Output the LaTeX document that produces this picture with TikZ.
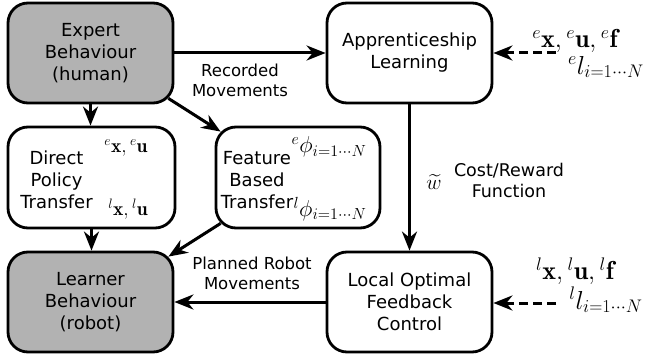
\RequirePackage{fix-cm}
\documentclass[tikz,border=0pt]{standalone}
\usepackage{fontspec}
\usepackage{amsmath}
\usetikzlibrary{arrows.meta,calc}
\newfontfamily\dejavu{DejaVu Sans}
\newcommand\boxfont{\dejavu\fontsize{18}{22}\selectfont}
\newcommand\lblfont{\dejavu\fontsize{16.5}{20}\selectfont}
\definecolor{boxgray}{RGB}{178,178,178}
\tikzset{
  box/.style={draw, line width=2.8pt, rounded corners=20pt, minimum width=165pt,
    minimum height=100pt, inner sep=0pt, font=\boxfont, align=center},
  humanbox/.style={box, fill=boxgray},
  txt/.style={font=\boxfont, align=center, inner sep=0pt},
  lbl/.style={font=\lblfont, align=center, inner sep=0pt},
  mathsm/.style={inner sep=0pt, font=\fontsize{19.5}{20}\selectfont},
  mathmd/.style={inner sep=0pt, font=\fontsize{23}{24}\selectfont},
  mathlg/.style={inner sep=0pt, font=\fontsize{26}{27}\selectfont},
  conn/.style={line width=3pt, -{Stealth[length=19pt,width=15pt,inset=6pt]}},
  inputconn/.style={conn, dash pattern=on 9pt off 5pt},
}
\begin{document}
\begin{tikzpicture}[x=1pt,y=-1pt]
\useasboundingbox (0,0) rectangle (649,361);

% boxes
\node[humanbox] (expert) at (90.5,53) {Expert\\Behaviour\\(human)};
\node[box] (appr) at (409.5,53) {Apprenticeship\\Learning};
\node[box, minimum width=167pt, minimum height=101pt] (direct) at (91.5,177.5) {};
\node[box, minimum width=164pt, minimum height=101pt] (feature) at (298,177.5) {};
\node[humanbox] (learner) at (90.5,302) {Learner\\Behaviour\\(robot)};
\node[box] (local) at (409.5,302) {Local Optimal\\Feedback\\Control};

% text inside the transfer boxes
\node[txt] (directT) at (56.5,180) {Direct\\Policy\\Transfer};
\node[mathsm] (directE) at (126,148) {${}^{e}\mathbf{x},{}^{e}\mathbf{u}$};
\node[mathsm] (directL) at (128,209) {${}^{l}\mathbf{x},{}^{l}\mathbf{u}$};
\node[txt] (featureT) at (257,180) {Feature\\Based\\Transfer};
\node[mathmd] (featureE) at (329,147) {${}^{e}\phi_{i=1\cdots N}$};
\node[mathmd] (featureL) at (330,209) {${}^{l}\phi_{i=1\cdots N}$};

% connectors
\draw[conn] (expert.east) -- (appr.west);
\draw[conn] (expert.south) -- (expert.south |- direct.north);
\draw[conn] ($(expert.south east)+(-6,-6)$) -- ($(feature.north west)+(6,6)$);
\draw[conn] (direct.south) -- (direct.south |- learner.north);
\draw[conn] ($(feature.south west)+(6,-6)$) -- ($(learner.north east)+(-6,6)$);
\draw[conn] (appr.south) -- (local.north);
\draw[conn] (local.west) -- (learner.east);

% connector labels
\node[lbl] (recorded) at (240,80) {Recorded\\Movements};
\node[lbl] (planned) at (252,273) {Planned Robot\\Movements};
\node[lbl, font=\dejavu\fontsize{17.5}{21}\selectfont] (cost) at (509,180) {Cost/Reward\\Function};
\node[inner sep=0pt, font=\fontsize{21}{22}\selectfont] (wt) at (434,182) {$\widetilde{w}$};

% external inputs
\coordinate (eIn) at (556,53);
\coordinate (lIn) at (556,303);
\draw[inputconn] (eIn) -- (appr.east);
\draw[inputconn] (lIn) -- (local.east |- lIn);
\node[mathlg] (eVars) at (575,41) {${}^{e}\mathbf{x},{}^{e}\mathbf{u},{}^{e}\mathbf{f}$};
\node[mathlg] (eCost) at (606,67) {${}^{e}l_{i=1\cdots N}$};
\node[mathlg] (lVars) at (575,271) {${}^{l}\mathbf{x},{}^{l}\mathbf{u},{}^{l}\mathbf{f}$};
\node[mathlg] (lCost) at (606,300) {${}^{l}l_{i=1\cdots N}$};
\end{tikzpicture}
\end{document}
